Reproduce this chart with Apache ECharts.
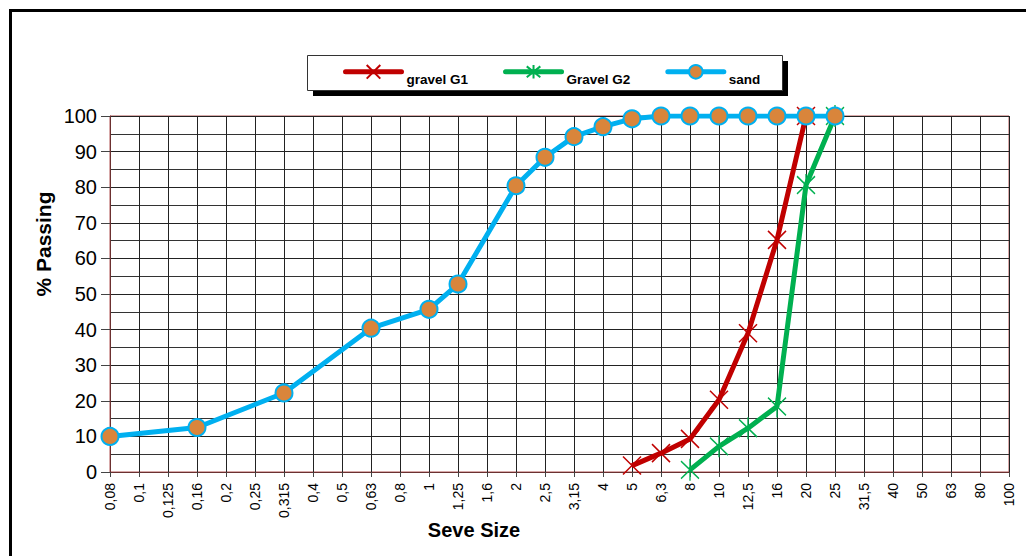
<!DOCTYPE html>
<html><head><meta charset="utf-8">
<script src="https://cdn.jsdelivr.net/npm/echarts@6/dist/echarts.min.js"></script>
<style>html,body{margin:0;padding:0;background:#fff}#c{width:1026px;height:556px}</style>
</head><body><div id="c"></div>
<script>
const sizes = ['0,08','0,1','0,125','0,16','0,2','0,25','0,315','0,4','0,5','0,63','0,8','1','1,25','1,6','2','2,5','3,15','4','5','6,3','8','10','12,5','16','20','25','31,5','40','50','63','80','100'];
const gravelG1 = [null,null,null,null,null,null,null,null,null,null,null,null,null,null,null,null,null,null,1.8,5.3,9.3,20.3,39,65.2,100,null,null,null,null,null,null,null];
const gravelG2 = [null,null,null,null,null,null,null,null,null,null,null,null,null,null,null,null,null,null,null,null,0.6,7.2,12.3,18.4,80.6,100,null,null,null,null,null,null];
const sand = [10,null,null,12.5,null,null,22.2,null,null,40.4,null,45.7,52.8,null,80.4,88.4,94.2,97,99.2,100,100,100,100,100,100,100,null,null,null,null,null,null];
const seriesNames = ['gravel G1','Gravel G2','sand'];
const yTicks = {min:0, max:100, interval:10};

const FONT = 'Arial, "Liberation Sans", sans-serif';
const chart = echarts.init(document.getElementById('c'), null, {renderer:'svg'});
const xSym = 'path://M0,0L16,16M16,0L0,16';
const aSym = 'path://M0,2L16,18M16,2L0,18M8,0L8,20';

chart.setOption({
  animation:false,
  backgroundColor:'#fff',
  grid:{left:110, right:17, top:116, bottom:84, show:true, borderColor:'#b05555', borderWidth:1, backgroundColor:'transparent', outerBoundsMode:'none'},
  legend:{
    data:seriesNames, left:343, top:64, padding:0, itemGap:35, itemWidth:56, itemHeight:17,
    formatter:function(n){return '{t|'+n+'}';},
    textStyle:{fontFamily:FONT, fontSize:13.5, fontWeight:'bold', color:'#000',
      rich:{t:{fontFamily:FONT, fontSize:13.5, fontWeight:'bold', color:'#000', padding:[16,0,0,0]}}},
    lineStyle:{width:5, cap:'round'}
  },
  xAxis:{
    type:'category', data:sizes, boundaryGap:false,
    axisLine:{lineStyle:{color:'#6b3030', width:1}},
    axisTick:{show:true, interval:0, length:5, lineStyle:{color:'#444'}},
    axisLabel:{interval:0, rotate:90, margin:11, fontFamily:FONT, fontSize:14, color:'#000'},
    splitLine:{show:true, interval:0, lineStyle:{color:'#222', width:1}}
  },
  yAxis:{
    type:'value', min:yTicks.min, max:yTicks.max, interval:yTicks.interval,
    axisLine:{show:true, lineStyle:{color:'#6b3030', width:1}},
    axisTick:{show:true, length:9, lineStyle:{color:'#444'}},
    axisLabel:{margin:13, fontFamily:FONT, fontSize:20, color:'#000'},
    splitLine:{show:true, lineStyle:{color:'#222', width:1}},
    minorTick:{show:false, splitNumber:2},
    minorSplitLine:{show:true, lineStyle:{color:'#333', width:1}}
  },
  series:[
    {name:seriesNames[0], type:'line', data:gravelG1, connectNulls:true, color:'#c00000',
     lineStyle:{color:'#c00000', width:5}, symbol:xSym, symbolSize:18,
     itemStyle:{color:'#c00000', borderColor:'#c00000', borderWidth:1.5}},
    {name:seriesNames[1], type:'line', data:gravelG2, connectNulls:true, color:'#00b050',
     lineStyle:{color:'#00b050', width:5}, symbol:aSym, symbolSize:[18,22],
     itemStyle:{color:'#00b050', borderColor:'#00b050', borderWidth:1.5}},
    {name:seriesNames[2], type:'line', data:sand, connectNulls:true, color:'#00b0f0',
     lineStyle:{color:'#00b0f0', width:5}, symbol:'circle', symbolSize:17,
     itemStyle:{color:'#d9853b', borderColor:'#00b0f0', borderWidth:2}}
  ],
  graphic:[
    {type:'rect', z:0, shape:{x:10.5, y:10.5, width:1040, height:580}, style:{fill:'none', stroke:'#000', lineWidth:3}},
    {type:'rect', z:1, shape:{x:313, y:61, width:475, height:35}, style:{fill:'#000'}},
    {type:'rect', z:2, shape:{x:307.5, y:55.5, width:475, height:35}, style:{fill:'#fff', stroke:'#333', lineWidth:1}},
    {type:'text', z:3, x:474, y:530, style:{text:'Seve Size', font:'bold 20px '+FONT, fill:'#000', align:'center', verticalAlign:'middle'}},
    {type:'text', z:3, x:43, y:244, rotation:Math.PI/2, style:{text:'% Passing', font:'bold 21px '+FONT, fill:'#000', align:'center', verticalAlign:'middle'}}
  ]
});
</script></body></html>
